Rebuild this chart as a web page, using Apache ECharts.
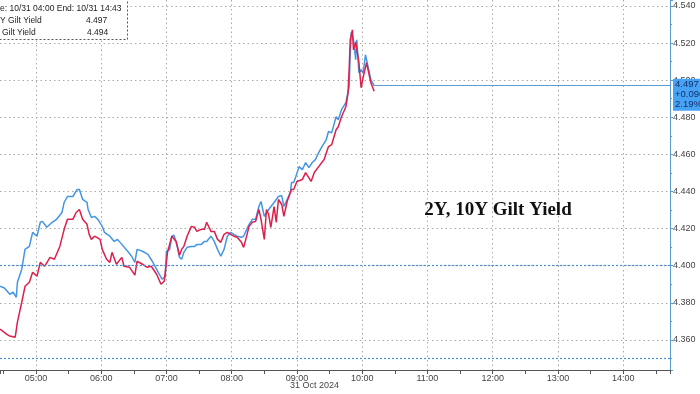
<!DOCTYPE html>
<html><head><meta charset="utf-8">
<script src="https://cdn.jsdelivr.net/npm/echarts@6/dist/echarts.min.js"></script>
<style>html,body{margin:0;padding:0;background:#fff}#c{width:700px;height:394px}</style>
</head><body><div id="c"></div>
<script>
// 2Y Gilt yield (blue)
const blueTimes = ["04:27","04:31","04:36","04:39","04:42","04:43","04:47","04:50","04:54","04:57","05:01","05:04","05:06","05:10","05:15","05:19","05:24","05:26","05:29","05:34","05:38","05:40","05:43","05:47","05:48","05:51","05:54","05:57","06:01","06:03","06:08","06:12","06:15","06:19","06:23","06:28","06:31","06:33","06:38","06:43","06:47","06:52","06:56","06:59","07:00","07:03","07:05","07:07","07:10","07:12","07:14","07:16","07:19","07:23","07:26","07:28","07:32","07:35","07:37","07:41","07:44","07:47","07:50","07:53","07:56","07:59","08:02","08:05","08:09","08:11","08:13","08:16","08:19","08:22","08:25","08:27","08:30","08:34","08:39","08:43","08:46","08:48","08:51","08:54","08:55","08:57","08:59","09:02","09:05","09:08","09:11","09:14","09:17","09:20","09:23","09:27","09:29","09:32","09:36","09:38","09:41","09:45","09:48","09:49","09:50","09:52","09:54","09:55","09:57","09:59","10:01","10:03","10:06","10:08","10:11"];
const blueVals = [4.389,4.388,4.3846,4.3857,4.383,4.3911,4.3981,4.4088,4.4104,4.418,4.4159,4.4234,4.4239,4.4207,4.4234,4.425,4.4287,4.4341,4.4373,4.4373,4.4411,4.4411,4.4357,4.4341,4.4303,4.426,4.4266,4.425,4.4212,4.418,4.4159,4.4131,4.4142,4.4115,4.4088,4.4051,4.4018,4.4088,4.4078,4.4061,4.4024,4.397,4.3927,4.3943,4.4078,4.4088,4.4159,4.4164,4.4104,4.4045,4.4035,4.4072,4.4099,4.4104,4.4104,4.4115,4.4115,4.4131,4.4131,4.4159,4.4131,4.4088,4.4051,4.4088,4.4159,4.418,4.4169,4.4159,4.4153,4.4159,4.4185,4.4223,4.425,4.425,4.4319,4.4346,4.4266,4.4303,4.4341,4.4373,4.4378,4.4319,4.4357,4.4395,4.4448,4.4448,4.4481,4.4534,4.4518,4.4556,4.4529,4.4556,4.4572,4.461,4.4642,4.468,4.4723,4.4717,4.4803,4.4787,4.4841,4.4879,4.4965,4.5147,4.526,4.5217,4.511,4.5217,4.504,4.5056,4.504,4.5137,4.5056,4.5002,4.497];
// 10Y Gilt yield (red)
const redTimes = ["04:27","04:33","04:36","04:41","04:43","04:47","04:50","04:54","04:57","05:01","05:04","05:08","05:13","05:17","05:22","05:26","05:29","05:34","05:37","05:40","05:43","05:47","05:49","05:51","05:54","05:59","06:01","06:05","06:08","06:10","06:14","06:19","06:21","06:26","06:31","06:33","06:38","06:42","06:46","06:51","06:55","06:58","07:01","07:05","07:09","07:12","07:14","07:16","07:19","07:23","07:26","07:28","07:32","07:35","07:37","07:41","07:44","07:47","07:50","07:53","07:56","07:59","08:02","08:05","08:09","08:11","08:13","08:16","08:19","08:22","08:25","08:27","08:30","08:32","08:34","08:36","08:39","08:41","08:43","08:46","08:48","08:51","08:55","08:57","09:00","09:05","09:08","09:13","09:16","09:20","09:25","09:29","09:32","09:36","09:38","09:41","09:45","09:47","09:48","09:49","09:51","09:52","09:54","09:57","09:59","10:01","10:04","10:07","10:08","10:11"];
const redVals = [4.3658,4.3631,4.3621,4.3615,4.3696,4.3803,4.3889,4.3911,4.3965,4.3943,4.4018,4.3997,4.4045,4.4035,4.4104,4.4196,4.425,4.425,4.4287,4.4303,4.425,4.4223,4.4169,4.4142,4.4159,4.4142,4.4088,4.4035,4.4018,4.4072,4.4008,4.4045,4.3997,4.3992,4.3949,4.4024,4.4008,4.3992,4.3997,4.3954,4.39,4.3916,4.4072,4.4159,4.4131,4.4056,4.4088,4.4104,4.4159,4.4212,4.4207,4.4185,4.4196,4.4196,4.4234,4.4185,4.4185,4.4142,4.4126,4.4169,4.418,4.4169,4.4159,4.4153,4.4126,4.4099,4.4142,4.4212,4.4234,4.4239,4.4303,4.425,4.4142,4.4303,4.4276,4.4207,4.4319,4.4234,4.4357,4.433,4.4266,4.4346,4.4411,4.4411,4.4454,4.4465,4.4502,4.4454,4.4502,4.4534,4.4572,4.4642,4.4653,4.4733,4.4749,4.4803,4.4857,4.4932,4.5056,4.5217,4.5271,4.5163,4.5206,4.5094,4.4959,4.5018,4.5094,4.5013,4.4986,4.494];
const seriesNames = ["2Y Gilt Yield","10Y Gilt Yield"];
const lastChange = ["+0.096","2.19%"];
const refLevels = [4.400, 4.3525];
const xRange = ["04:27","14:43"];
const yRange = [4.3438, 4.5432];
const dateLabel = "31 Oct 2024";
const titleText = "2Y, 10Y Gilt Yield";

const toH = s => { const p = s.split(':'); return +p[0] + (+p[1]) / 60; };
const blueData = blueTimes.map((t, i) => [toH(t), blueVals[i]]);
const redData = redTimes.map((t, i) => [toH(t), redVals[i]]);
const xMin = toH(xRange[0]), xMax = toH(xRange[1]);
const lastB = blueData[blueData.length - 1];
const gridColor = '#a8a8a8';
const fmtH = v => Math.abs(v - Math.round(v)) < 1e-6 ? String(Math.round(v)).padStart(2, '0') + ':00' : '';

const chart = echarts.init(document.getElementById('c'), null, {renderer: 'canvas'});
chart.setOption({
  animation: false,
  backgroundColor: '#fff',
  grid: {left: 0, right: 30, top: 0, bottom: 24},
  xAxis: [{
    type: 'value', min: xMin, max: xMax, splitNumber: 10, position: 'bottom',
    axisLine: {show: true, lineStyle: {color: '#555', width: 1}},
    axisTick: {show: false},
    axisLabel: {color: '#444', fontSize: 9, fontFamily: 'Liberation Sans', margin: 4,
      showMaxLabel: false, showMinLabel: false, formatter: fmtH},
    splitLine: {show: true, showMinLine: false, showMaxLine: false, lineStyle: {color: gridColor, type: [1.5, 3], width: 1}}
  }, {
    type: 'value', min: xMin, max: xMax, splitNumber: 20, position: 'bottom',
    axisLine: {show: false},
    axisTick: {show: true, length: 4, lineStyle: {color: '#555'}},
    axisLabel: {show: false},
    splitLine: {show: false}
  }],
  yAxis: {
    type: 'value', position: 'right', min: yRange[0], max: yRange[1], splitNumber: 10,
    axisLine: {show: true, lineStyle: {color: '#5b9bd5', width: 1}},
    axisTick: {show: true, length: 3, lineStyle: {color: '#5b9bd5'}},
    minorTick: {show: true, splitNumber: 2, length: 2, lineStyle: {color: '#5b9bd5'}},
    axisLabel: {color: '#444', fontSize: 9, fontFamily: 'Liberation Sans', margin: 3,
      showMinLabel: false, showMaxLabel: false, formatter: v => v.toFixed(3)},
    splitLine: {show: true, showMinLine: false, showMaxLine: false, lineStyle: {color: gridColor, type: [1.5, 3], width: 1}}
  },
  series: [{
    name: seriesNames[0], type: 'line', data: blueData, showSymbol: false, symbol: 'none',
    lineStyle: {color: '#4596e2', width: 1.5}, z: 3,
    markLine: {
      silent: true, symbol: 'none', animation: false,
      lineStyle: {color: '#5b9bd5', type: 'solid', width: 1},
      label: {
        show: true, position: 'end', distance: 3,
        formatter: () => [lastB[1].toFixed(3), lastChange[0], lastChange[1]].join('\n'),
        backgroundColor: '#46a2f4', color: '#16306b', fontSize: 9.5, lineHeight: 10,
        fontFamily: 'Liberation Sans', padding: [1, 4, 1, 2], offset: [0, 9], align: 'left'
      },
      data: [[{coord: [lastB[0], lastB[1]]}, {coord: [xMax, lastB[1]]}]]
    }
  }, {
    name: seriesNames[1], type: 'line', data: redData, showSymbol: false, symbol: 'none',
    lineStyle: {color: '#dd1f4b', width: 1.5}, z: 4,
    markLine: {
      silent: true, symbol: 'none', animation: false,
      lineStyle: {color: '#4a90da', type: [2, 2], width: 1.2},
      label: {show: false},
      data: refLevels.map(v => ({yAxis: v}))
    }
  }],
  graphic: [
    {type: 'rect', left: -6, top: -6, shape: {width: 133, height: 45},
     style: {fill: '#fff', stroke: '#555', lineWidth: 1, lineDash: [2, 2]}, z: 100},
    {type: 'text', left: 0, top: 4, z: 101,
     style: {text: 'e: 10/31 04:00 End: 10/31 14:43', fill: '#222', font: '8.5px "Liberation Sans"'}},
    {type: 'text', left: 0, top: 16, z: 101,
     style: {text: 'Y Gilt Yield', fill: '#222', font: '8.5px "Liberation Sans"'}},
    {type: 'text', left: 86, top: 16, z: 101,
     style: {text: blueVals[blueVals.length - 1].toFixed(3), fill: '#222', font: '8.5px "Liberation Sans"'}},
    {type: 'text', left: 2, top: 28, z: 101,
     style: {text: 'Gilt Yield', fill: '#222', font: '8.5px "Liberation Sans"'}},
    {type: 'text', left: 87, top: 28, z: 101,
     style: {text: redVals[redVals.length - 1].toFixed(3), fill: '#222', font: '8.5px "Liberation Sans"'}},
    {type: 'text', left: 290, top: 381, z: 101,
     style: {text: dateLabel, fill: '#444', font: '9px "Liberation Sans"'}},
    {type: 'text', x: 498, y: 210, z: 101,
     style: {text: titleText, fill: '#111', font: 'bold 19px "Liberation Serif"',
       align: 'center', verticalAlign: 'middle',
       shadowColor: 'rgba(0,0,0,0.45)', shadowBlur: 4, shadowOffsetX: 2, shadowOffsetY: 2}}
  ]
});
</script></body></html>
